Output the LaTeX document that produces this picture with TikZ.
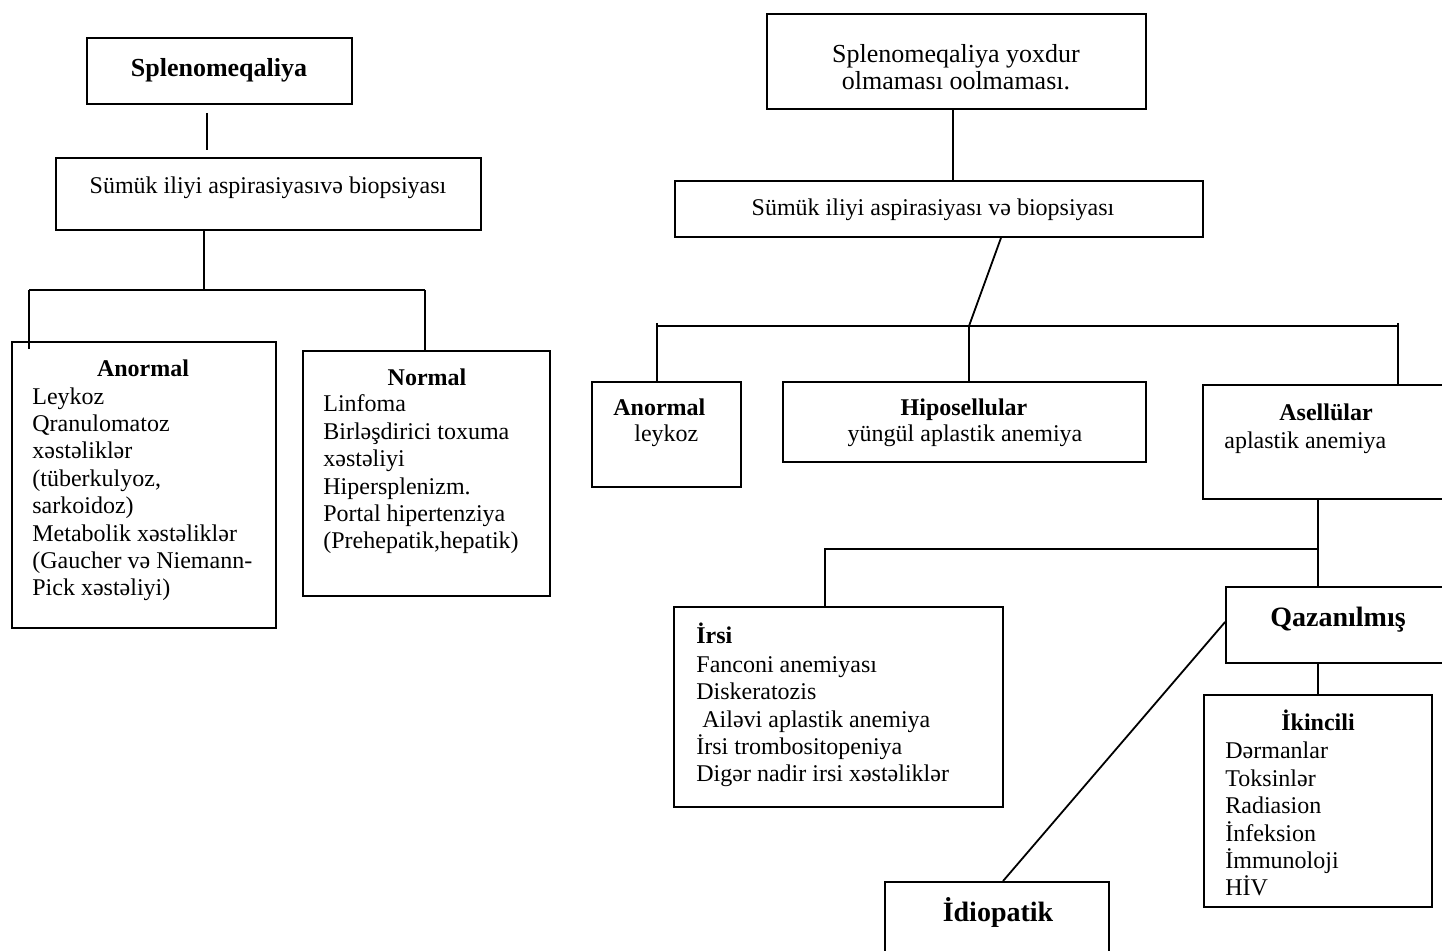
\documentclass[tikz,border=0pt]{standalone}
\usepackage{fontspec}
\setmainfont{Liberation Serif}
\usetikzlibrary{fit}
\tikzset{
  box/.style={draw, line width=0.9pt, inner sep=0pt, fit={#1}},
  conn/.style={line width=0.9pt},
  txt/.style={inner sep=0pt, font=\fontsize{12}{13.7}\selectfont, align=left},
  ttl/.style={inner sep=0pt, font=\fontsize{12}{13.7}\selectfont\bfseries},
  bigttl/.style={inner sep=0pt, font=\fontsize{14}{16}\selectfont\bfseries},
}
\begin{document}
\begin{tikzpicture}[x=0.5pt,y=-0.5pt]
\useasboundingbox (0,0) rectangle (1442,951);
\clip (0,0) rectangle (1442,951);
\fill[white] (0,0) rectangle (1442,951);

% ---------- left tree ----------
\node[box={(87,38) (352,104)}] (a) {};
\node[inner sep=0pt, font=\fontsize{13}{15}\selectfont\bfseries, anchor=base] (at) at (219,77) {Splenomeqaliya};
\coordinate (a1) at (207,113);
\coordinate (a2) at (207,150);
\draw[conn] (a1) -- (a2);

\node[box={(56,158) (481,230)}] (b) {};
\node[txt, anchor=base] (bt) at (268,194) {Sümük iliyi aspirasiyasıvə biopsiyası};

\coordinate (jL) at (204,290);
\coordinate (jLa) at (29,290);
\coordinate (jLb) at (425,290);

\node[box={(12,342) (276,628)}] (c) {};
\node[ttl, anchor=base] (ct) at (143,377) {Anormal};
\node[txt, anchor=base west] (ci) at (32,596) {Leykoz\\Qranulomatoz\\xəstəliklər\\(tüberkulyoz,\\sarkoidoz)\\Metabolik xəstəliklər\\(Gaucher və Niemann-\\Pick xəstəliyi)};

\node[box={(303,351) (550,596)}] (d) {};
\node[ttl, anchor=base] (dt) at (427,386) {Normal};
\node[txt, anchor=base west] (di) at (323,549) {Linfoma\\Birləşdirici toxuma\\xəstəliyi\\Hipersplenizm.\\Portal hipertenziya\\(Prehepatik,hepatik)};

\draw[conn] (b.south -| jL) -- (jL);
\draw[conn] (jLa) -- (jLb);
\draw[conn] (jLa) -- ([yshift=-4pt]c.north -| jLa);
\draw[conn] (jLb) -- (d.north -| jLb);

% ---------- right tree ----------
\node[box={(767,14) (1146,109)}] (e) {};
\node[inner sep=0pt, font=\fontsize{13}{13.5}\selectfont, align=center, anchor=base] (et) at (956,90) {Splenomeqaliya yoxdur\\olmaması oolmaması.};

\node[box={(675,181) (1203,237)}] (f) {};
\node[txt, anchor=base] (ft) at (933,216) {Sümük iliyi aspirasiyası və biopsiyası};

\coordinate (k1) at (953,150);
\draw[conn] (e.south -| k1) -- (f.north -| k1);

\coordinate (s1) at (1001,237);
\coordinate (jR) at (969,326);
\coordinate (jR1) at (657,326);
\coordinate (jR2) at (1398,326);

\node[box={(592,382) (741,487)}] (g) {};
\node[ttl, anchor=base west] (gt) at (613,416) {Anormal};
\node[txt, anchor=base west] (gi) at (634,442) {leykoz};

\node[box={(783,382) (1146,462)}] (h) {};
\node[ttl, anchor=base] (ht) at (964,416) {Hiposellular};
\node[txt, anchor=base] (hi) at (965,442) {yüngül aplastik anemiya};

\node[box={(1203,385) (1450,499)}] (i) {};
\node[ttl, anchor=base] (it) at (1326,421) {Asellülar};
\node[txt, anchor=base west] (ii) at (1224,449) {aplastik anemiya};

\draw[conn] (f.south -| s1) -- (jR);
\draw[conn] (jR1) -- (jR2);
\draw[conn] ([yshift=1.5pt]jR1) -- (g.north -| jR1);
\draw[conn] (jR) -- (h.north -| jR);
\draw[conn] ([yshift=1.5pt]jR2) -- (i.north -| jR2);

\node[box={(674,607) (1003,807)}] (j) {};
\node[ttl, anchor=base west] (jt) at (696,644) {İrsi};
\node[txt, anchor=base west] (ji) at (696,782) {Fanconi anemiyası\\Diskeratozis\\\hspace*{0.25em}Ailəvi aplastik anemiya\\İrsi trombositopeniya\\Digər nadir irsi xəstəliklər};

\node[box={(1226,587) (1450,663)}] (k) {};
\node[bigttl, anchor=base] (kt) at (1338,627) {Qazanılmış};

\node[box={(1204,695) (1432,907)}] (l) {};
\node[ttl, anchor=base] (lt) at (1318,731) {İkincili};
\node[txt, anchor=base west] (li) at (1225,896) {Dərmanlar\\Toksinlər\\Radiasion\\İnfeksion\\İmmunoloji\\HİV};

\node[box={(885,882) (1109,965)}] (m) {};
\node[bigttl, anchor=base] (mt) at (998,922) {İdiopatik};

\coordinate (jQ) at (1318,549);
\coordinate (jQ2) at (825,549);
\draw[conn] (i.south -| jQ) -- (k.north -| jQ);
\draw[conn] (jQ) -- (jQ2) -- (j.north -| jQ2);
\draw[conn] (k.south -| jQ) -- (l.north -| jQ);

\coordinate (q1) at (1226,622);
\coordinate (q2) at (1003,882);
\draw[conn] (k.west |- q1) -- (m.north -| q2);
\end{tikzpicture}
\end{document}
